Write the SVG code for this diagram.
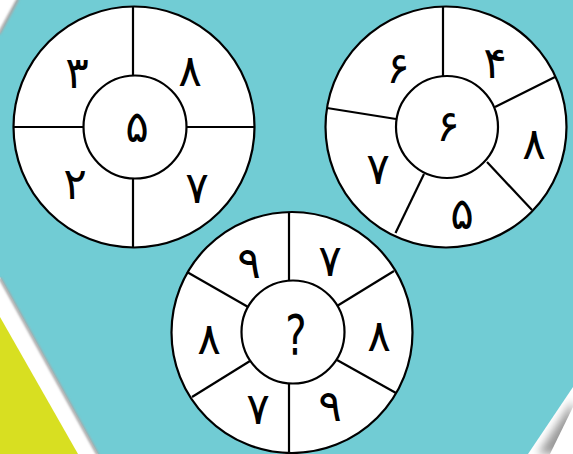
<svg xmlns="http://www.w3.org/2000/svg" width="573" height="454" viewBox="0 0 573 454">
<style>
.ring{fill:#fff;stroke:#000;stroke-width:2.2}
.div{stroke:#000;stroke-width:2.2;fill:none}
.num{font-family:"DejaVu Sans",sans-serif;font-size:44px;fill:#000;text-anchor:middle;dominant-baseline:central}
.q{font-family:"DejaVu Sans",sans-serif;font-size:56px;fill:#000;text-anchor:middle;dominant-baseline:central}
</style>
<defs>
<filter id="blur" x="-20%" y="-20%" width="140%" height="140%"><feGaussianBlur stdDeviation="1"/></filter>
<filter id="blur2" x="-50%" y="-50%" width="200%" height="200%"><feGaussianBlur stdDeviation="4"/></filter>
</defs>
<g id="background">
<rect width="573" height="454" fill="#fff"/>
<polygon points="538,454 573,400 573,454" fill="#9a9a9a" filter="url(#blur2)"/>
<polygon points="17,0 573,0 573,387 528,454 98,454 0,277 0,33" fill="#71ccd4"/>
<line x1="0" y1="278" x2="98" y2="455" stroke="#a9a9a9" stroke-width="3" filter="url(#blur)"/>
<line x1="18" y1="-1" x2="-1" y2="34" stroke="#a9a9a9" stroke-width="3" filter="url(#blur)"/>
<polygon points="0,317 78,454 0,454" fill="#d8df21"/>
<polygon points="573,407 550,454 573,454" fill="#fff"/>
</g>
<g id="wheel1">
<circle class="ring" cx="134" cy="127" r="120.5"/>
<line class="div" x1="133" y1="6" x2="133" y2="76"/>
<line class="div" x1="133" y1="178" x2="133" y2="248"/>
<line class="div" x1="13" y1="127" x2="84" y2="127"/>
<line class="div" x1="186" y1="127" x2="255" y2="127"/>
<circle class="ring" cx="135" cy="127" r="51.5"/>
<text class="num" x="77" y="72">۳</text>
<text class="num" x="190" y="70">۸</text>
<text class="num" x="137" y="126">۵</text>
<text class="num" x="75" y="183">۲</text>
<text class="num" x="197" y="187">۷</text>
</g>
<g id="wheel2">
<circle class="ring" cx="446" cy="127" r="120.5"/>
<line class="div" x1="443" y1="6" x2="443" y2="76"/>
<line class="div" x1="495" y1="107" x2="555" y2="77"/>
<line class="div" x1="487" y1="162" x2="532" y2="210"/>
<line class="div" x1="424" y1="174" x2="395.5" y2="233"/>
<line class="div" x1="396" y1="119" x2="327" y2="108"/>
<circle class="ring" cx="447" cy="127" r="51"/>
<text class="num" x="398" y="67">۶</text>
<text class="num" x="495" y="62">۴</text>
<text class="num" x="448" y="125">۶</text>
<text class="num" x="534" y="143">۸</text>
<text class="num" x="462" y="213">۵</text>
<text class="num" x="378" y="168">۷</text>
</g>
<g id="wheel3">
<circle class="ring" cx="292" cy="332.5" r="120.5"/>
<line class="div" x1="289" y1="212" x2="289" y2="281"/>
<line class="div" x1="289" y1="383" x2="289" y2="455"/>
<line class="div" x1="187" y1="272" x2="249" y2="307.5"/>
<line class="div" x1="337" y1="306" x2="394" y2="271"/>
<line class="div" x1="337" y1="360" x2="396" y2="393"/>
<line class="div" x1="250" y1="361" x2="192" y2="397"/>
<circle class="ring" cx="293" cy="332" r="51.5"/>
<text class="num" x="249" y="262">۹</text>
<text class="num" x="330" y="260">۷</text>
<text class="num" x="209" y="338">۸</text>
<text class="num" x="379" y="335">۸</text>
<text class="num" x="258" y="408">۷</text>
<text class="num" x="330" y="405">۹</text>
<text class="q" transform="translate(296,335) scale(0.72,1)">?</text>
</g>
</svg>
